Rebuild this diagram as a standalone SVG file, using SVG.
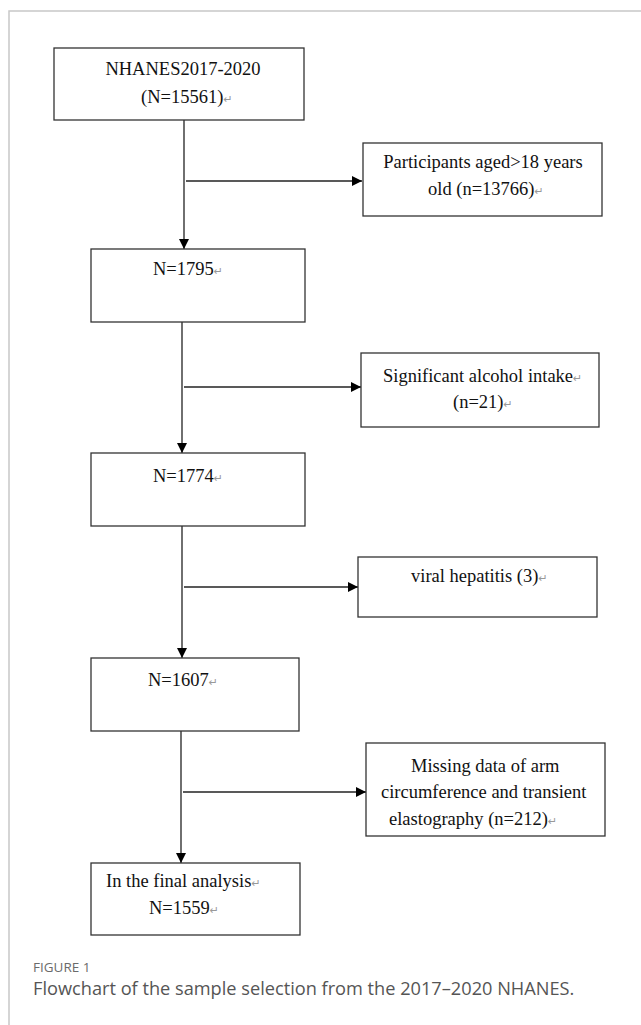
<svg xmlns="http://www.w3.org/2000/svg" width="641" height="1025" viewBox="0 0 641 1025">
<defs>
<marker id="ah" viewBox="0 0 10 10" refX="10" refY="5" markerWidth="10" markerHeight="10" markerUnits="userSpaceOnUse" orient="auto">
<path d="M0,0 L10,5 L0,10 z" fill="#000"/>
</marker>
<style>
.box{fill:#fff;stroke:#333;stroke-width:1.3}
.t{font-family:"Liberation Serif","Times New Roman",serif;font-size:18.5px;fill:#111}
.r{font-family:"DejaVu Sans",sans-serif;font-size:11px;fill:#999}
.c{stroke:#222;stroke-width:1.3;fill:none}
.frame{stroke:#c8c8c8;stroke-width:1.5;fill:none}
</style>
</defs>
<rect width="641" height="1025" fill="#fff"/>
<path class="frame" d="M9,1025 V11 H641"/>
<g id="connectors">
<line class="c" x1="184" y1="120" x2="184" y2="249" marker-end="url(#ah)"/>
<line class="c" x1="186" y1="181" x2="362" y2="181" marker-end="url(#ah)"/>
<line class="c" x1="182" y1="322" x2="182" y2="453" marker-end="url(#ah)"/>
<line class="c" x1="184" y1="387" x2="361" y2="387" marker-end="url(#ah)"/>
<line class="c" x1="182" y1="526" x2="182" y2="658" marker-end="url(#ah)"/>
<line class="c" x1="184" y1="587" x2="358" y2="587" marker-end="url(#ah)"/>
<line class="c" x1="181" y1="731" x2="181" y2="863" marker-end="url(#ah)"/>
<line class="c" x1="183" y1="792" x2="366" y2="792" marker-end="url(#ah)"/>
</g>
<g id="n1">
<rect class="box" x="54" y="48" width="250" height="72"/>
<text class="t" x="183" y="75" text-anchor="middle">NHANES2017-2020</text>
<text class="t" x="141" y="103">(N=15561)<tspan class="r">↵</tspan></text>
</g>
<g id="n2">
<rect class="box" x="363" y="143" width="239" height="73"/>
<text class="t" x="483" y="168" text-anchor="middle">Participants aged&gt;18 years</text>
<text class="t" x="428" y="195">old (n=13766)<tspan class="r">↵</tspan></text>
</g>
<g id="n3">
<rect class="box" x="91" y="249" width="214" height="73"/>
<text class="t" x="153" y="275">N=1795<tspan class="r">↵</tspan></text>
</g>
<g id="n4">
<rect class="box" x="361" y="353" width="238" height="74"/>
<text class="t" x="383" y="382">Significant alcohol intake<tspan class="r">↵</tspan></text>
<text class="t" x="453" y="408">(n=21)<tspan class="r">↵</tspan></text>
</g>
<g id="n5">
<rect class="box" x="91" y="453" width="214" height="73"/>
<text class="t" x="153" y="482">N=1774<tspan class="r">↵</tspan></text>
</g>
<g id="n6">
<rect class="box" x="358" y="557" width="239" height="60"/>
<text class="t" x="411" y="582">viral hepatitis (3)<tspan class="r">↵</tspan></text>
</g>
<g id="n7">
<rect class="box" x="91" y="658" width="208" height="73"/>
<text class="t" x="148" y="686">N=1607<tspan class="r">↵</tspan></text>
</g>
<g id="n8">
<rect class="box" x="366" y="743" width="239" height="93"/>
<text class="t" x="411" y="772">Missing data of arm</text>
<text class="t" x="381" y="798">circumference and transient</text>
<text class="t" x="389" y="825">elastography (n=212)<tspan class="r">↵</tspan></text>
</g>
<g id="n9">
<rect class="box" x="91" y="863" width="209" height="72"/>
<text class="t" x="106" y="887">In the final analysis<tspan class="r">↵</tspan></text>
<text class="t" x="149" y="914">N=1559<tspan class="r">↵</tspan></text>
</g>
<g id="caption">
<text x="33" y="972" font-family="Open Sans, sans-serif" font-size="13.5" fill="#6b6b6b">FIGURE 1</text>
<text x="33" y="995" font-family="Open Sans, sans-serif" font-size="18.2" fill="#555">Flowchart of the sample selection from the 2017–2020 NHANES.</text>
</g>
</svg>
